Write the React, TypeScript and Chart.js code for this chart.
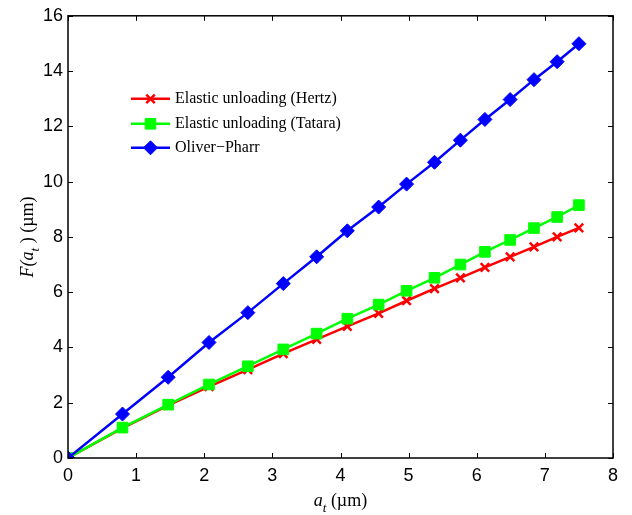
import React, { useEffect, useRef } from "react";
import { Chart, registerables } from "chart.js";

Chart.register(...registerables);

const xValues = [0, 0.8, 1.47, 2.07, 2.64, 3.16, 3.65, 4.1, 4.56, 4.97, 5.38, 5.76, 6.12, 6.49, 6.84, 7.18, 7.5];
const hertz = [0, 1.08, 1.9, 2.58, 3.2, 3.78, 4.29, 4.76, 5.23, 5.69, 6.13, 6.52, 6.9, 7.28, 7.64, 8.0, 8.33];
const tatara = [0, 1.1, 1.93, 2.66, 3.32, 3.93, 4.5, 5.04, 5.55, 6.05, 6.52, 7.0, 7.46, 7.89, 8.32, 8.72, 9.15];
const oliverPharr = [0, 1.59, 2.92, 4.18, 5.26, 6.31, 7.28, 8.22, 9.08, 9.91, 10.7, 11.5, 12.25, 12.97, 13.69, 14.34, 14.99];
const seriesLabels = ["Elastic unloading (Hertz)", "Elastic unloading (Tatara)", "Oliver\u2212Pharr"];

const SANS = "'Liberation Sans', Arial, sans-serif";
const SERIF = "'Liberation Serif', 'Times New Roman', serif";

const toPoints = (ys: number[]) => ys.map((y, i) => ({ x: xValues[i], y }));

function drawMarker(ctx: CanvasRenderingContext2D, style: string, r: number, x: number, y: number) {
  ctx.beginPath();
  if (style === "crossRot") {
    const o = Math.SQRT1_2 * r;
    ctx.moveTo(x - o, y - o);
    ctx.lineTo(x + o, y + o);
    ctx.moveTo(x - o, y + o);
    ctx.lineTo(x + o, y - o);
    ctx.stroke();
  } else if (style === "rect") {
    const s = Math.SQRT1_2 * r;
    ctx.rect(x - s, y - s, 2 * s, 2 * s);
    ctx.fill();
    ctx.stroke();
  } else {
    ctx.moveTo(x - r, y);
    ctx.lineTo(x, y - r);
    ctx.lineTo(x + r, y);
    ctx.lineTo(x, y + r);
    ctx.closePath();
    ctx.fill();
    ctx.stroke();
  }
}

const framePlugin = {
  id: "matlabFrame",
  afterDatasetsDraw(chart: any) {
    const { ctx, chartArea: a, scales } = chart;
    ctx.save();
    ctx.strokeStyle = "#000";
    ctx.lineWidth = 1.5;
    ctx.strokeRect(a.left, a.top, a.right - a.left, a.bottom - a.top);
    ctx.lineWidth = 1;
    const tl = 5;
    ctx.beginPath();
    scales.x.ticks.forEach((t: any) => {
      const px = Math.round(scales.x.getPixelForValue(t.value)) + 0.5;
      ctx.moveTo(px, a.bottom);
      ctx.lineTo(px, a.bottom - tl);
      ctx.moveTo(px, a.top);
      ctx.lineTo(px, a.top + tl);
    });
    scales.y.ticks.forEach((t: any) => {
      const py = Math.round(scales.y.getPixelForValue(t.value)) + 0.5;
      ctx.moveTo(a.left, py);
      ctx.lineTo(a.left + tl, py);
      ctx.moveTo(a.right, py);
      ctx.lineTo(a.right - tl, py);
    });
    ctx.stroke();

    // axis titles
    ctx.fillStyle = "#000";
    ctx.textBaseline = "alphabetic";
    const drawParts = (parts: { t: string; f: string; dy?: number }[], cx: number, cy: number) => {
      let total = 0;
      parts.forEach((p) => {
        ctx.font = p.f;
        total += ctx.measureText(p.t).width;
      });
      let x = cx - total / 2;
      parts.forEach((p) => {
        ctx.font = p.f;
        ctx.fillText(p.t, x, cy + (p.dy || 0));
        x += ctx.measureText(p.t).width;
      });
    };
    const it = `italic 18px ${SERIF}`;
    const itSub = `italic 13px ${SERIF}`;
    const rm = `18px ${SERIF}`;
    drawParts(
      [
        { t: "a", f: it },
        { t: "t", f: itSub, dy: 6 },
        { t: " (\u00b5m)", f: rm },
      ],
      (a.left + a.right) / 2,
      506
    );
    ctx.save();
    ctx.translate(33, (a.top + a.bottom) / 2);
    ctx.rotate(-Math.PI / 2);
    drawParts(
      [
        { t: "F(a", f: it },
        { t: "t", f: itSub, dy: 6 },
        { t: " ) (\u00b5m)", f: rm },
      ],
      0,
      0
    );
    ctx.restore();

    // legend
    const ds = chart.data.datasets;
    const lx0 = a.left + 63;
    const lx1 = a.left + 102;
    const rows = [a.top + 83, a.top + 108, a.top + 132];
    ds.forEach((d: any, i: number) => {
      const y = rows[i];
      ctx.strokeStyle = d.borderColor;
      ctx.lineWidth = d.borderWidth;
      ctx.beginPath();
      ctx.moveTo(lx0, y);
      ctx.lineTo(lx1, y);
      ctx.stroke();
      ctx.fillStyle = d.pointBackgroundColor;
      ctx.strokeStyle = d.pointBorderColor;
      ctx.lineWidth = d.pointBorderWidth;
      drawMarker(ctx, d.pointStyle, d.pointRadius, (lx0 + lx1) / 2, y);
      ctx.fillStyle = "#000";
      ctx.font = `16px ${SERIF}`;
      ctx.textBaseline = "middle";
      ctx.fillText(seriesLabels[i], lx1 + 5, y);
    });
    ctx.restore();
  },
};

export default function App() {
  const ref = useRef<HTMLCanvasElement>(null);
  useEffect(() => {
    document.body.style.margin = "0";
    const canvas = ref.current;
    if (!canvas) return;
    const chart = new Chart(canvas, {
      type: "line",
      data: {
        datasets: [
          {
            label: seriesLabels[0],
            data: toPoints(hertz),
            borderColor: "#ff0000",
            backgroundColor: "#ff0000",
            pointBackgroundColor: "#ff0000",
            pointBorderColor: "#ff0000",
            pointStyle: "crossRot",
            pointRadius: 6,
            pointBorderWidth: 2.5,
            borderWidth: 2.5,
            order: 3,
          },
          {
            label: seriesLabels[1],
            data: toPoints(tatara),
            borderColor: "#00ff00",
            backgroundColor: "#00ff00",
            pointBackgroundColor: "#00ff00",
            pointBorderColor: "#00ff00",
            pointStyle: "rect",
            pointRadius: 7.5,
            pointBorderWidth: 1,
            borderWidth: 2.5,
            order: 2,
          },
          {
            label: seriesLabels[2],
            data: toPoints(oliverPharr),
            borderColor: "#0000ff",
            backgroundColor: "#0000ff",
            pointBackgroundColor: "#0000ff",
            pointBorderColor: "#0000ff",
            pointStyle: "rectRot",
            pointRadius: 7,
            pointBorderWidth: 1,
            borderWidth: 2.5,
            order: 1,
          },
        ] as any,
      },
      options: {
        animation: false,
        responsive: false,
        devicePixelRatio: 1,
        layout: { padding: { top: 14, right: 19, left: 0, bottom: 0 } },
        plugins: { legend: { display: false }, tooltip: { enabled: false } },
        scales: {
          x: {
            type: "linear",
            min: 0,
            max: 8,
            ticks: { stepSize: 1, color: "#000", font: { family: SANS, size: 18 }, padding: 7 },
            grid: { display: false, drawTicks: false },
            border: { display: false },
            afterFit: (s: any) => {
              s.height = 57;
            },
          },
          y: {
            type: "linear",
            min: 0,
            max: 16,
            ticks: { stepSize: 2, color: "#000", font: { family: SANS, size: 18 }, padding: 5 },
            grid: { display: false, drawTicks: false },
            border: { display: false },
            afterFit: (s: any) => {
              s.width = 68;
            },
          },
        },
      } as any,
      plugins: [framePlugin],
    });
    return () => chart.destroy();
  }, []);
  return (
    <div style={{ width: 632, height: 515, background: "#fff" }}>
      <canvas ref={ref} width={632} height={515} style={{ display: "block" }} />
    </div>
  );
}
